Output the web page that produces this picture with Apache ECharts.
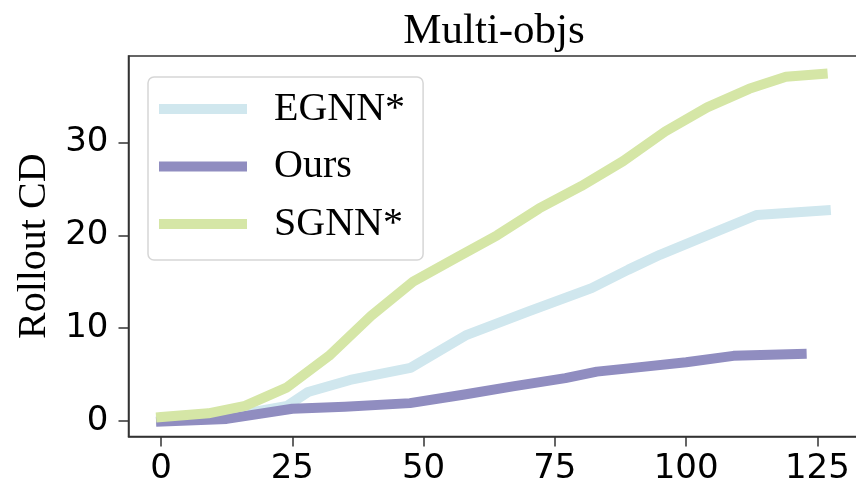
<!DOCTYPE html>
<html>
<head>
<meta charset="utf-8">
<script src="https://cdn.jsdelivr.net/npm/echarts@6/dist/echarts.min.js"></script>
<style>
  html, body { margin: 0; padding: 0; background: #ffffff; }
  #chart { width: 856px; height: 487px; }
</style>
</head>
<body>
<div id="chart"></div>
<script>
// Rollout step (x) and Chamfer distance (y) for each model
const egnnX  = [0, 9, 16, 24, 28, 36, 47.5, 58, 70, 82, 89, 95, 104, 113.5, 126.6];
const egnnY  = [0.0, 0.3, 0.8, 1.6, 3.1, 4.4, 5.7, 9.2, 11.8, 14.3, 16.3, 17.9, 20.0, 22.2, 22.7];

const oursX  = [0, 12.5, 25, 35, 47.4, 57.5, 67, 77, 83, 89, 100, 109, 122];
const oursY  = [-0.1, 0.2, 1.3, 1.5, 1.9, 2.8, 3.7, 4.6, 5.3, 5.65, 6.3, 7.0, 7.2];

const sgnnX  = [0, 9, 16, 24, 32, 40, 48, 56, 64, 72, 80, 88, 96, 104, 112, 119, 126];
const sgnnY  = [0.4, 0.8, 1.6, 3.6, 7.0, 11.3, 15.0, 17.5, 20.0, 22.9, 25.3, 28.0, 31.2, 33.8, 35.8, 37.1, 37.4];

const seriesNames = ['EGNN*', 'Ours', 'SGNN*'];
const seriesColors = ['#d0e7ee', '#908dc0', '#d5e6a6'];

const xTicks = [0, 25, 50, 75, 100, 125];
const yTicks = [0, 10, 20, 30];

const zip = (xs, ys) => xs.map((x, i) => [x, ys[i]]);
const seriesData = [zip(egnnX, egnnY), zip(oursX, oursY), zip(sgnnX, sgnnY)];

const serif = '"Liberation Serif", "DejaVu Serif", serif';
const sans = '"DejaVu Sans", sans-serif';

const chart = echarts.init(document.getElementById('chart'), null, { renderer: 'canvas' });

chart.setOption({
  animation: false,
  backgroundColor: '#ffffff',
  title: {
    text: 'Multi-objs',
    left: 489,
    top: 5,
    textAlign: 'center',
    textStyle: { fontFamily: serif, fontSize: 43, fontWeight: 'normal', color: '#000' }
  },
  // the plot box runs past the right edge of the page, so keep it unclamped
  grid: {
    left: 128.5, width: 732.5, top: 56, height: 380.5,
    outerBoundsMode: 'none',
    containLabel: false,
    show: true, borderColor: '#333', borderWidth: 1.5, backgroundColor: 'transparent'
  },
  legend: {
    left: 148, top: 77,
    orient: 'vertical',
    icon: 'rect',
    itemWidth: 88, itemHeight: 10,
    itemGap: 17.5,
    padding: [12, 18, 16, 11],
    backgroundColor: '#ffffff',
    borderColor: '#d6d6d6', borderWidth: 1.5, borderRadius: 6,
    textStyle: { fontFamily: serif, fontSize: 40, color: '#000', lineHeight: 40, padding: [0, 0, 0, 22] },
    data: seriesNames
  },
  xAxis: {
    type: 'value',
    min: -6.2, max: 133.3,
    splitLine: { show: false },
    axisLine: { show: true, onZero: false, lineStyle: { color: '#333', width: 1.5 } },
    axisTick: { show: true, length: 10, customValues: xTicks, lineStyle: { color: '#333', width: 1.5 } },
    axisLabel: { customValues: xTicks, fontFamily: sans, fontSize: 34, color: '#000', margin: 16 }
  },
  yAxis: {
    type: 'value',
    min: -1.70, max: 39.34,
    name: 'Rollout CD',
    nameLocation: 'middle',
    nameRotate: 90,
    nameGap: 74,
    nameTextStyle: { fontFamily: serif, fontSize: 40, color: '#000' },
    splitLine: { show: false },
    axisLine: { show: true, onZero: false, lineStyle: { color: '#333', width: 1.5 } },
    axisTick: { show: true, length: 10, customValues: yTicks, lineStyle: { color: '#333', width: 1.5 } },
    axisLabel: { customValues: yTicks, fontFamily: sans, fontSize: 34, color: '#000', margin: 20 }
  },
  series: seriesNames.map((name, i) => ({
    name,
    type: 'line',
    data: seriesData[i],
    showSymbol: false,
    symbol: 'none',
    color: seriesColors[i],
    lineStyle: { color: seriesColors[i], width: 10, cap: 'square', join: 'round' },
    z: 2 + i
  }))
});
</script>
</body>
</html>
